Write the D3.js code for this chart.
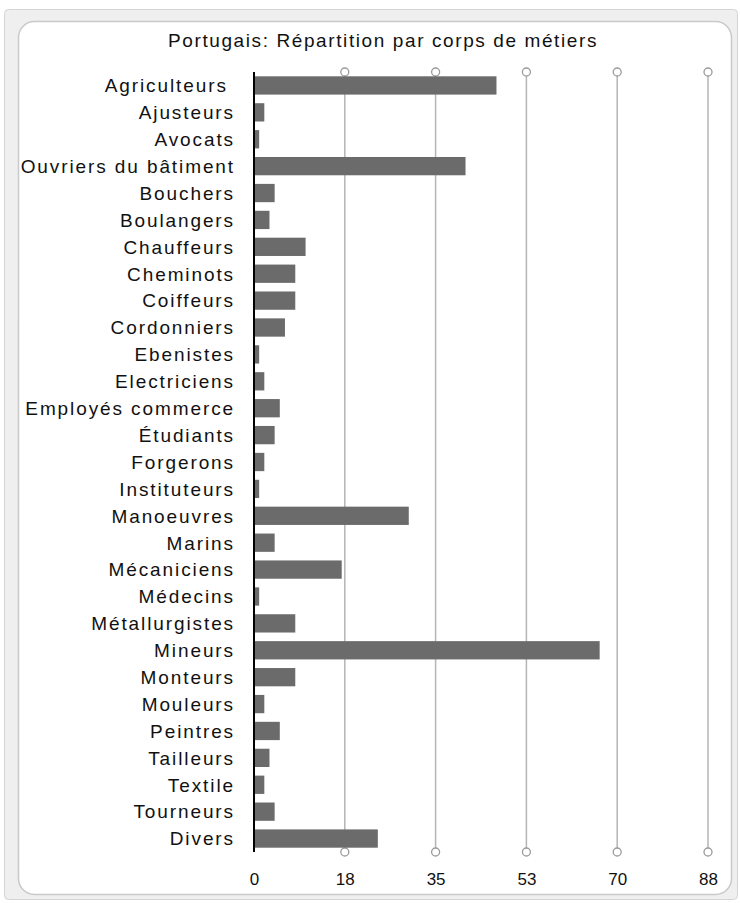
<!DOCTYPE html>
<html>
<head>
<meta charset="utf-8">
<script src="https://cdn.jsdelivr.net/npm/d3@7"></script>
<style>
  body { margin: 0; background: #fff; }
  svg { display: block; font-family: "Liberation Sans", Arial, sans-serif; }
</style>
</head>
<body>
<svg width="740" height="903"></svg>
<script>
// categories, top to bottom
const metiers = ['Agriculteurs ', 'Ajusteurs', 'Avocats', 'Ouvriers du bâtiment', 'Bouchers', 'Boulangers',
  'Chauffeurs', 'Cheminots', 'Coiffeurs', 'Cordonniers', 'Ebenistes', 'Electriciens', 'Employés commerce',
  'Étudiants', 'Forgerons', 'Instituteurs', 'Manoeuvres', 'Marins', 'Mécaniciens', 'Médecins',
  'Métallurgistes', 'Mineurs', 'Monteurs', 'Mouleurs', 'Peintres', 'Tailleurs', 'Textile', 'Tourneurs', 'Divers']

// values
const effectifs = [47, 2, 1, 41, 4, 3, 10, 8, 8, 6, 1, 2, 5, 4, 2, 1, 30, 4, 17, 1, 8, 67, 8, 2, 5, 3, 2, 4, 24]

const tickVals = [0, 17.6, 35.2, 52.8, 70.4, 88]
const tickLabels = ['0', '18', '35', '53', '70', '88']

const titre = 'Portugais: Répartition par corps de métiers'

const svg = d3.select('svg')

// window-like frame
svg.append('rect')
  .attr('x', 4.5).attr('y', 9.5).attr('width', 733).attr('height', 890).attr('rx', 4)
  .attr('fill', '#efefef').attr('stroke', '#d4d4d4')
svg.append('rect')
  .attr('x', 18.5).attr('y', 21.5).attr('width', 713).attr('height', 873).attr('rx', 16)
  .attr('fill', '#fff').attr('stroke', '#c9c9c9').attr('stroke-width', 1.5)

const x = d3.scaleLinear([0, 88], [254, 708])
const y = d3.scaleBand(metiers, [72, 852]).paddingInner(0.32).paddingOuter(0.16)

// title
svg.append('text')
  .attr('x', 383).attr('y', 47)
  .attr('text-anchor', 'middle')
  .attr('font-size', '19px')
  .attr('letter-spacing', '1.6px')
  .attr('fill', '#111')
  .text(titre)

// vertical grid lines with little circles at both ends
const grid = svg.append('g')
tickVals.slice(1).forEach(v => {
  grid.append('line')
    .attr('x1', x(v)).attr('x2', x(v))
    .attr('y1', y.range()[0]).attr('y2', y.range()[1])
    .attr('stroke', '#b5b5b5').attr('stroke-width', 1.5)
  ;[y.range()[0], y.range()[1]].forEach(cy => {
    grid.append('circle')
      .attr('cx', x(v)).attr('cy', cy).attr('r', 4)
      .attr('fill', '#fff').attr('stroke', '#9a9a9a').attr('stroke-width', 1.3)
  })
})

// bars
svg.append('g').selectAll('rect').data(metiers).enter()
  .append('rect')
    .attr('x', x(0))
    .attr('y', d => y(d))
    .attr('width', (d, i) => x(effectifs[i]) - x(0))
    .attr('height', y.bandwidth())
    .attr('fill', '#6b6b6b')

// category labels
svg.append('g').selectAll('text').data(metiers).enter()
  .append('text')
    .attr('x', 235)
    .attr('y', d => y(d) + y.bandwidth() / 2)
    .attr('dy', '0.36em')
    .attr('text-anchor', 'end')
    .attr('font-size', '19px')
    .attr('letter-spacing', '1.9px')
    .attr('fill', '#111')
    .style('white-space', 'pre')
    .text(d => d)

// y axis line
svg.append('line')
  .attr('x1', x(0)).attr('x2', x(0))
  .attr('y1', y.range()[0]).attr('y2', y.range()[1])
  .attr('stroke', '#000').attr('stroke-width', 2)

// x axis labels
const xAxis = d3.axisBottom(x)
  .tickValues(tickVals)
  .tickFormat((d, i) => tickLabels[i])
  .tickSize(0)
  .tickPadding(0)

svg.append('g')
  .attr('transform', 'translate(0, 873)')
  .call(xAxis)
  .call(g => g.select('.domain').remove())
  .call(g => g.selectAll('text')
    .attr('font-size', '17px')
    .attr('font-family', '"Liberation Sans", Arial, sans-serif')
    .attr('fill', '#111'))
</script>
</body>
</html>
